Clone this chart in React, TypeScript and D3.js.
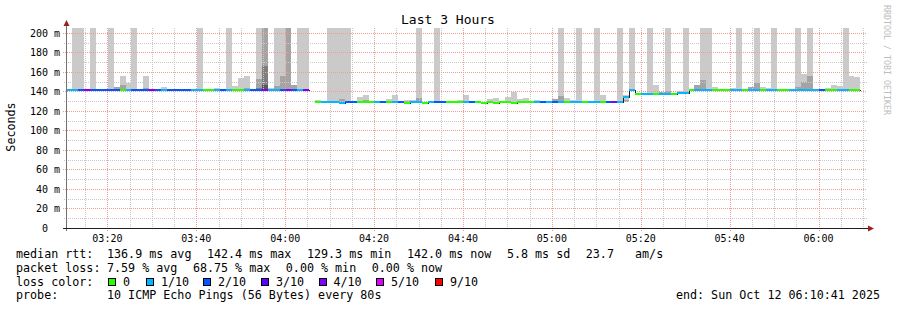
import React from "react";
import * as d3 from "d3";

// ---------- data ----------
const F = 400; // ping far above the graph's upper limit (clipped)
const startTime = new Date(2025, 9, 12, 3, 10, 41);
const endTime = new Date(2025, 9, 12, 6, 10, 41);
const firstStepStart = new Date(2025, 9, 12, 3, 10, 45);
const STEP_MS = 80000;

const medianMs: (number | null)[] = [
  142, 142, 142, 142, 142, 142, 142, 142, 142, 142,
  142, 142, 142, 142, 142, 142, 142, 142, 142, 142,
  142, 142, 142, 142, 142, 142, 142, 142, 142, 142,
  142, 142, 142, 142, 142, 142, 142, 142, 142, 142,
  142, null, 129.6, 129.6, 129.6, 129.6, 128.6, 129.6, 129.6, 129.6,
  129.6, 129.6, 129.6, 129.6, 129.6, 129.6, 129.6, 128.6, 129.6, 129.6,
  128.6, 129.6, 129.6, 129.6, 129.6, 129.6, 129.6, 129.6, 129.6, 129.6,
  128.6, 129.6, 128.6, 129.6, 129.6, 128.6, 129.6, 129.6, 129.6, 129.6,
  129.6, 129.6, 129.6, 129.6, 129.6, 129.6, 129.6, 129.6, 129.6, 129.6,
  129.6, 129.6, 129.6, 129.6, 134.5, 142, 137.4, 137.2, 137.6, 137.4,
  137.6, 137.6, 137.9, 138.3, 138.3, 142, 142, 142, 142, 142,
  142, 142, 142, 142, 142, 142, 142, 142, 142, 142,
  142, 142, 142, 142, 142, 142, 142, 142, 142, 142,
  142, 142, 142, 142,
];

const lossCount: (number | null)[] = [
  1, 1, 2, 4, 2, 2, 2, 2, 2, 0,
  1, 2, 2, 2, 4, 2, 1, 2, 2, 2,
  2, 1, 1, 0, 0, 1, 2, 1, 0, 0,
  1, 2, 2, 4, 1, 1, 2, 4, 2, 1,
  4, null, 0, 1, 1, 1, 1, 2, 2, 0,
  0, 0, 1, 2, 0, 1, 2, 0, 1, 1,
  0, 1, 2, 2, 0, 0, 0, 1, 2, 0,
  0, 0, 0, 0, 0, 0, 0, 0, 0, 1,
  2, 1, 2, 1, 0, 1, 1, 0, 1, 1,
  0, 2, 4, 1, 1, 1, 0, 1, 1, 0,
  1, 1, 0, 1, 1, 0, 1, 1, 1, 0,
  0, 0, 1, 1, 0, 1, 1, 0, 1, 1,
  0, 0, 1, 1, 1, 1, 1, 2, 0, 0,
  1, 1, 0, 0,
];

// top of the outermost (lightest) smoke layer per step
const smokeOuter: (number | null)[] = [
  null, F, F, null, F, null, null, F, 144.6, 156,
  149, F, null, 156, null, null, 144.6, null, null, null,
  null, null, F, null, null, 143.6, null, F, 145.6, 153.8,
  156, null, F, F, 143.6, F, F, F, 147, F,
  F, null, 131.6, null, F, F, F, F, null, 134.4,
  136.7, null, null, null, 132.3, 136.7, null, 131.6, 131.6, F,
  null, null, F, null, null, null, 131.6, 136.7, null, null,
  null, 131.8, 133.5, null, 134.4, 139.5, 131.8, 133.5, null, 131.3,
  null, null, 132.3, F, 133.3, 131, F, null, null, F,
  136.7, null, null, F, 136, F, null, null, F, 147,
  139.5, F, null, 140.5, F, null, 146.7, F, F, 144.5,
  null, null, 143.6, F, null, 144.6, F, 144.5, 143.6, F,
  null, null, null, F, 158, F, null, 143, 144, 147,
  145.6, F, 156, 155,
];

// top of the second smoke layer per step
const smokeMid: (number | null)[] = [
  null, null, null, null, 143, null, null, null, 144.6, 147,
  null, null, null, 143.5, null, null, null, null, null, null,
  null, null, null, null, null, null, null, null, null, null,
  143.5, null, 153, F, null, 145.6, 156, F, 147, null,
  null, null, null, null, null, null, 132.3, null, null, null,
  131, null, null, null, null, null, null, 130.5, null, 133.5,
  null, null, null, null, null, null, null, null, null, null,
  null, null, null, null, null, null, null, null, null, null,
  null, null, 132.3, 135.4, null, null, null, null, null, null,
  null, null, null, null, 131, null, null, null, null, null,
  139.5, 140.5, null, null, null, null, 146.7, 152, null, null,
  null, null, null, null, null, 144.6, 148.7, null, null, null,
  null, null, null, 144.6, 149.5, 156, null, null, null, null,
  null, null, null, null,
];

// third and fourth smoke layers (only a few steps)
const smokeInner: Record<number, number> = { 32: 144, 33: 166 };
const smokeCore: Record<number, number> = { 33: 147 };
// fastest ping where it lies below the median
const minPing: Record<number, number> = { 94: 129.6 };

const lossLevels = [0, 1, 2, 3, 4, 5, 9];
const lossLevelColors = ["#26ff00", "#00b8ff", "#0059ff", "#5e00ff", "#7e00ff", "#dd00ff", "#ff0000"];
const lossLevelLabels = ["0", "1/10", "2/10", "3/10", "4/10", "5/10", "9/10"];
const smokeShades = ["#cacaca", "#a4a4a4", "#7e7e7e", "#585858"];

const rttStats = ["136.9 ms avg", "142.4 ms max", "129.3 ms min", "142.0 ms now", "5.8 ms sd", "23.7   am/s"];
const lossStats = ["7.59 % avg", "68.75 % max", "0.00 % min", "0.00 % now"];
const probeText = "10 ICMP Echo Pings (56 Bytes) every 80s";
const endText = "end: Sun Oct 12 06:10:41 2025";
const titleText = "Last 3 Hours";

// ---------- layout ----------
const W = 897;
const H = 310;
const PL = 66, PR = 866, PT = 28, PB = 228;
const FONT = "'DejaVu Sans Mono', monospace";
const LEG_FS = 11.7;
const CHAR_W = 7.04;
const ITEM_GAP = 15.5;

function lossColor(n: number) {
  let idx = 0;
  for (let i = 0; i < lossLevels.length; i++) if (n >= lossLevels[i]) idx = i;
  return lossLevelColors[idx];
}

function placeItems(first: number, items: string[]) {
  const xs: number[] = [];
  let cur = first;
  items.forEach((s) => {
    xs.push(cur);
    cur += s.length * CHAR_W + ITEM_GAP;
  });
  return xs;
}

export default function App() {
  const x = d3.scaleTime().domain([startTime, endTime]).range([PL, PR]);
  const y = d3.scaleLinear().domain([0, 205.1]).range([PB, PT]);

  const stepStart = (k: number) => new Date(firstStepStart.getTime() + k * STEP_MS);
  const stepEnd = (k: number) => new Date(firstStepStart.getTime() + (k + 1) * STEP_MS);

  const minorTicks = x.ticks(d3.timeMinute.every(5) as any);
  const majorTicks = minorTicks.filter((t) => t.getMinutes() % 20 === 0);
  const minorOnly = minorTicks.filter((t) => t.getMinutes() % 20 !== 0);
  const fmt = d3.timeFormat("%H:%M");

  const yMajor = d3.range(20, 201, 20);
  const yMinor = d3.range(10, 200, 20);
  const yLabels = y.ticks(10);

  // smoke rectangles
  const smokeRects: JSX.Element[] = [];
  medianMs.forEach((m, k) => {
    if (m == null) return;
    const bottom = minPing[k] != null ? Math.min(minPing[k], m) : m;
    const x0 = Math.round(x(stepStart(k)));
    const x1 = Math.round(x(stepEnd(k)));
    const layers = [smokeOuter[k], smokeMid[k], smokeInner[k] ?? null, smokeCore[k] ?? null];
    layers.forEach((top, li) => {
      if (top == null) return;
      const yt = Math.round(y(top));
      const yb = Math.round(y(bottom));
      smokeRects.push(
        <rect key={`s${k}-${li}`} x={x0} y={yt} width={x1 - x0} height={Math.max(1, yb - yt)} fill={smokeShades[li]} />
      );
    });
  });

  // median step line
  type P = { t: Date; m: number | null };
  const pts: P[] = [];
  medianMs.forEach((m, k) => {
    pts.push({ t: stepStart(k), m });
    if (m != null && medianMs[k + 1] == null) pts.push({ t: stepEnd(k), m });
  });
  const medianLine = d3
    .line<P>()
    .defined((d) => d.m != null)
    .x((d) => Math.round(x(d.t)) + 0.5)
    .y((d) => Math.round(y(d.m as number)) + 0.5)
    .curve(d3.curveStepAfter)(pts) as string;

  const bands: JSX.Element[] = [];
  medianMs.forEach((m, k) => {
    const l = lossCount[k];
    if (m == null || l == null) return;
    const x0 = Math.round(x(stepStart(k)));
    const x1 = Math.round(x(stepEnd(k)));
    const yc = Math.round(y(m));
    bands.push(<rect key={`b${k}`} x={x0} y={yc - 1} width={x1 - x0} height={2} fill={lossColor(l)} />);
  });

  const rttX = placeItems(107, rttStats);
  const lossX = placeItems(107, lossStats);
  const boxX = [108.5, 146.5, 203.5, 261.5, 319.5, 376.5, 435.5];
  const boxLabelX = [123, 161, 218, 276, 333.5, 391, 450];

  return (
    <svg
      width={W}
      height={H}
      style={{ position: "absolute", left: 0, top: 0, background: "#fff" }}
      fontFamily={FONT}
    >
      <defs>
        <clipPath id="plot">
          <rect x={PL} y={PT} width={PR - PL} height={PB - PT} />
        </clipPath>
      </defs>
      <rect x={0} y={0} width={W} height={H} fill="#fff" />

      <g clipPath="url(#plot)" shapeRendering="crispEdges">{smokeRects}</g>

      {/* grid */}
      <g shapeRendering="crispEdges" strokeWidth={1} strokeDasharray="1,1">
        {yMinor.map((v) => (
          <line key={`ym${v}`} x1={PL - 2} x2={PR + 1} y1={Math.round(y(v)) + 0.5} y2={Math.round(y(v)) + 0.5} stroke="#c8c8c8" />
        ))}
        {minorOnly.map((t) => (
          <line key={`xm${+t}`} x1={Math.round(x(t)) + 0.5} x2={Math.round(x(t)) + 0.5} y1={PT} y2={PB + 2} stroke="#c8c8c8" />
        ))}
        {yMajor.map((v) => (
          <line key={`yM${v}`} x1={PL - 3} x2={PR + 1} y1={Math.round(y(v)) + 0.5} y2={Math.round(y(v)) + 0.5} stroke="#f09a9a" />
        ))}
        {majorTicks.map((t) => (
          <line key={`xM${+t}`} x1={Math.round(x(t)) + 0.5} x2={Math.round(x(t)) + 0.5} y1={PT} y2={PB + 3} stroke="#f09a9a" />
        ))}
      </g>

      {/* median */}
      <g clipPath="url(#plot)">
        <path d={medianLine} fill="none" stroke="#202020" strokeWidth={1} shapeRendering="crispEdges" />
        <g shapeRendering="crispEdges">{bands}</g>
      </g>

      {/* axes */}
      <g shapeRendering="crispEdges">
        <line x1={PL + 0.5} x2={PL + 0.5} y1={PB + 3} y2={PT - 5} stroke="#707070" />
        <line x1={PL - 3} x2={PR + 3} y1={PB + 0.5} y2={PB + 0.5} stroke="#202020" />
      </g>
      <path d={`M${PL - 2.5},${PT - 2} L${PL + 0.5},${PT - 8} L${PL + 3.5},${PT - 2} Z`} fill="#9b2020" />
      <path d={`M${PR + 2},${PB - 2.5} L${PR + 8},${PB + 0.5} L${PR + 2},${PB + 3.5} Z`} fill="#9b2020" />

      {/* axis labels */}
      <g fontSize={10} fill="#000">
        {yLabels.map((v) => (
          <text key={`yl${v}`} x={v === 0 ? 48 : 60} y={Math.round(y(v)) + 3.5} textAnchor="end">
            {v === 0 ? "0" : `${v} m`}
          </text>
        ))}
        {majorTicks.map((t) => (
          <text key={`xl${+t}`} x={x(t)} y={241.5} textAnchor="middle">
            {fmt(t)}
          </text>
        ))}
      </g>

      <text x={448} y={24} fontSize={13} textAnchor="middle" fill="#000">
        {titleText}
      </text>
      <text transform="translate(15,127) rotate(-90)" fontSize={LEG_FS} textAnchor="middle" fill="#000">
        Seconds
      </text>
      <text
        transform="translate(884,5) rotate(90)"
        fontSize={9}
        fill="#bdbdbd"
        textLength={110}
        lengthAdjust="spacingAndGlyphs"
      >
        RRDTOOL / TOBI OETIKER
      </text>

      {/* legend */}
      <g fontSize={LEG_FS} fill="#000" style={{ whiteSpace: "pre" }}>
        <text x={16} y={258}>median rtt:</text>
        {rttStats.map((s, i) => (
          <text key={`r${i}`} x={rttX[i]} y={258} xmlSpace="preserve">
            {s}
          </text>
        ))}
        <text x={16} y={271.7}>packet loss:</text>
        {lossStats.map((s, i) => (
          <text key={`l${i}`} x={lossX[i]} y={271.7}>
            {s}
          </text>
        ))}
        <text x={16} y={285.5}>loss color:</text>
        {lossLevelLabels.map((s, i) => (
          <g key={`c${i}`}>
            <rect x={boxX[i]} y={278.5} width={7} height={7} fill={lossLevelColors[i]} stroke="#000" strokeWidth={1} shapeRendering="crispEdges" />
            <text x={boxLabelX[i]} y={285.5}>
              {s}
            </text>
          </g>
        ))}
        <text x={16} y={299.3}>probe:</text>
        <text x={107} y={299.3}>{probeText}</text>
        <text x={880} y={299.3} textAnchor="end">
          {endText}
        </text>
      </g>
    </svg>
  );
}
